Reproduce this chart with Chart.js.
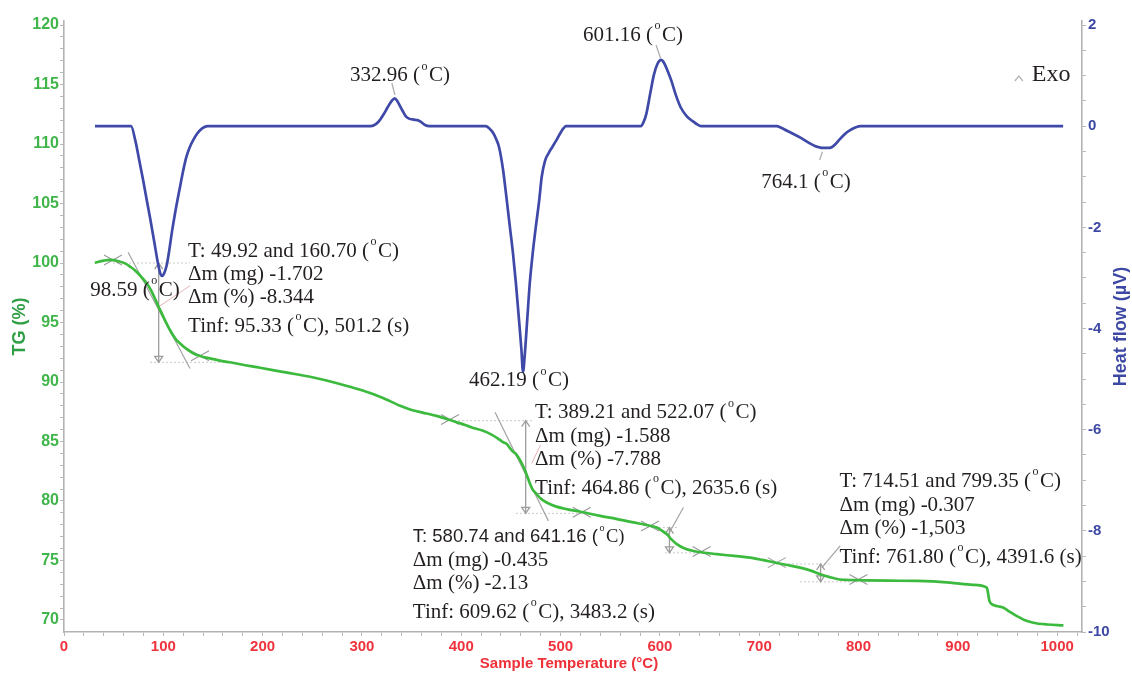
<!DOCTYPE html>
<html>
<head>
<meta charset="utf-8">
<script src="https://cdn.jsdelivr.net/npm/chart.js@4.4.1/dist/chart.umd.min.js"></script>
<style>
  html, body { margin: 0; padding: 0; background: #ffffff; }
  #wrap { width: 1132px; height: 679px; position: relative; }
</style>
</head>
<body>
<div id="wrap"><canvas id="c" width="1132" height="679"></canvas></div>
<script>
// ---- TG curve: sample temperature (°C) and remaining mass (%) ----
const tgTemps = [31, 40, 46.3, 55, 62, 66.5, 71, 75, 79, 83.3, 87, 91, 95.33, 98, 101, 104, 106.7, 110, 113, 116.8,
  120, 123.5, 127, 130.2, 135, 140, 147, 157, 167, 180, 197.4, 220, 250, 275, 300, 320, 338.4, 350, 365, 375,
  388.7, 400, 410, 422, 430, 437, 442, 445.8, 449, 452, 455, 457.5, 461, 464.3, 467, 469.3, 472, 476, 480, 486,
  495, 506, 520, 539.8, 556, 573.3, 585, 596.9, 602, 607, 612, 617, 625, 633.7, 645, 657.3, 675, 690.8, 703, 714.3,
  728, 741.2, 752, 761.3, 771, 781.5, 790, 801.6, 830, 858.7, 892.2, 915, 929.2, 930.5, 931.8, 934, 937, 942, 946, 952,
  959.4, 967, 976.1, 990, 1006.3];
const tgValues = [100.02, 100.2, 100.27, 100.15, 99.95, 99.7, 99.42, 99.1, 98.72, 98.3, 97.8, 97.12, 96.3, 95.85, 95.3, 94.8, 94.37, 93.9, 93.55, 93.25,
  93.0, 92.78, 92.58, 92.41, 92.24, 92.1, 91.99, 91.8, 91.66, 91.45, 91.2, 90.85, 90.4, 89.9, 89.3, 88.7, 88.0, 87.65, 87.35, 87.15,
  86.8, 86.5, 86.2, 85.9, 85.6, 85.25, 84.95, 84.79, 84.45, 84.15, 83.95, 83.66, 83.15, 82.54, 81.95, 81.42, 80.95, 80.58, 80.2, 79.87,
  79.55, 79.32, 79.1, 78.75, 78.5, 78.2, 78.0, 77.77, 77.5, 77.2, 76.75, 76.37, 76.0, 75.8, 75.65, 75.53, 75.38, 75.24, 75.05, 74.85,
  74.62, 74.4, 74.15, 73.85, 73.6, 73.4, 73.36, 73.34, 73.3, 73.28, 73.14, 72.95, 72.72, 72.2, 71.6, 71.35, 71.22, 71.12, 71.03, 70.7,
  70.33, 70.0, 69.77, 69.62, 69.55];

// ---- DTA curve: sample temperature (°C) and heat flow (µV) ----
const hfTemps = [31.2, 50, 67.5, 72, 76, 80, 83.3, 87, 91, 94.5, 96.8, 98.59, 100.6, 103.4, 106, 109, 112, 116.8, 120, 123,
  126.5, 130.2, 134, 137, 141, 145, 200, 250, 309, 314, 318, 322, 326, 330, 332.96, 335.5, 338, 341, 344, 347.4,
  352, 356, 359, 363, 368, 400, 424.6, 428, 432, 435, 438, 442, 445.8, 449, 452, 455, 458, 460.5, 462.19, 464,
  466.5, 469, 472, 475, 478.5, 481, 484.4, 488, 492, 496, 500, 503, 505.5, 550, 580.7, 583.5, 586.4, 590, 594, 597.5,
  601.16, 604.5, 608, 611.5, 616, 621, 626.9, 633, 638, 642, 680, 717.5, 722, 728, 735, 741, 746, 751, 756, 760,
  764.1, 769, 773.4, 777, 781, 785, 789, 794, 798, 802, 850, 900, 950, 1006];
const hfValues = [0, 0, 0, -0.3, -0.7, -1.1, -1.46, -1.85, -2.3, -2.7, -2.9, -2.96, -2.92, -2.75, -2.45, -2.05, -1.7, -1.2, -0.88, -0.62,
  -0.42, -0.27, -0.15, -0.08, -0.02, 0, 0, 0, 0, 0.04, 0.12, 0.24, 0.38, 0.5, 0.55, 0.5, 0.41, 0.3, 0.2, 0.15,
  0.13, 0.12, 0.09, 0.03, 0, 0, 0, -0.04, -0.13, -0.25, -0.41, -0.85, -1.46, -2.0, -2.5, -3.1, -3.8, -4.4, -4.86, -4.5,
  -3.8, -3.1, -2.5, -2.0, -1.46, -1.0, -0.68, -0.53, -0.4, -0.27, -0.13, -0.04, 0, 0, 0, 0.08, 0.25, 0.62, 1.02, 1.23,
  1.31, 1.24, 1.08, 0.9, 0.62, 0.37, 0.2, 0.1, 0.03, 0, 0, 0, -0.03, -0.09, -0.16, -0.22, -0.28, -0.34, -0.39, -0.415,
  -0.43, -0.43, -0.41, -0.35, -0.26, -0.18, -0.11, -0.05, -0.015, 0, 0, 0, 0, 0];

// ---- axis tick labels ----
const xTickLabels = [0, 100, 200, 300, 400, 500, 600, 700, 800, 900, 1000];
const tgTickLabels = [70, 75, 80, 85, 90, 95, 100, 105, 110, 115, 120];
const hfTickLabels = [-10, -8, -6, -4, -2, 0, 2];

// ---- DTA peak temperatures (°C) ----
const peakTemps = [98.59, 332.96, 462.19, 601.16, 764.1];

// ---- mass-loss steps ----
const stepRanges = [[49.92, 160.70], [389.21, 522.07], [580.74, 641.16], [714.51, 799.35]];
const stepMassMg = [-1.702, -1.588, -0.435, -0.307];
const stepMassPct = ['-8.344', '-7.788', '-2.13', '-1,503'];
const stepTinf = [95.33, 464.86, 609.62, 761.80];
const stepTinfTime = [501.2, 2635.6, 3483.2, 4391.6];

// ---- construction marks of each step (temperature °C, mass %) ----
const stepMarks = [
  { crosses: [[49.3, 100.25], [137, 92.2]], top: 100.0, dotTop: [49.3, 127], dotBottom: [86.6, 160.7],
    tangent: [[64.5, 100.9], [126.9, 91.13]], pink: [[96.7, 96.4], [126.9, 98.1]] },
  { crosses: [[388.7, 86.85], [521.3, 79.05]], top: 86.75, dotTop: [388.7, 472.3], dotBottom: [455, 526.7],
    tangent: [[434, 87.45], [487.7, 78.33]], pink: [[471, 83.17], [479.8, 84.71]] },
  { crosses: [[590, 77.9], [642, 75.75]], top: 77.77, dotTop: [586.8, 617], dotBottom: [605, 650],
    tangent: [[623.7, 79.45], [608.6, 77.2]], pink: null },
  { crosses: [[717.7, 74.82], [799.9, 73.4]], top: 74.71, dotTop: [717, 771], dotBottom: [741, 811],
    tangent: [[781.5, 76.23], [763, 74.4]], pink: null }
];
// anchor of each step's text block (left edge °C, first line mass %)
const stepTextAnchor = [[124.9, 101.01], [474.3, 87.4], [351.2, 77.0], [780.8, 81.63]];
// anchor of each peak label (centre °C, heat flow µV) and its leader line
const peakLabelAnchor = [[71.5, -3.24], [338.3, 0.993], [458.1, -5.037], [572.9, 1.803], [747.1, -1.103]];
const peakLeaders = [null, [[330.1, 0.854], [333.2, 0.617]], null, [[596.1, 1.605], [600.6, 1.348]], [[763.6, -0.504], [760.9, -0.668]]];
const exoAnchor = [974.5, 1.012];

const SERIF = '"Liberation Serif", "Times New Roman", serif';
const SANS = '"Liberation Sans", Arial, sans-serif';
const TEXT_SIZE = 21;
const LINE_OFFSETS = [0, 23.5, 46.5, 75.5];

const stepLines = stepRanges.map((r, i) => [
  `T: ${r[0].toFixed(2)} and ${r[1].toFixed(2)} (°C)`,
  `Δm (mg) ${stepMassMg[i]}`,
  `Δm (%) ${stepMassPct[i]}`,
  `Tinf: ${stepTinf[i].toFixed(2)} (°C), ${stepTinfTime[i]} (s)`
]);

// text with "°" drawn as a small raised "o"
function richRuns(str, size, headFamily, family) {
  const parts = str.split('°');
  const runs = [];
  parts.forEach((p, i) => {
    if (i > 0) runs.push({ text: 'o', font: `${Math.round(size * 0.55)}px ${family}`, dy: -size * 0.45, pad: 1.5 });
    if (p) runs.push({ text: p, font: `${size}px ${i === 0 ? headFamily : family}`, dy: 0, pad: 0 });
  });
  return runs;
}
function drawRich(ctx, str, x, y, opt) {
  const size = opt.size || TEXT_SIZE;
  const runs = richRuns(str, size, opt.headFamily || SERIF, SERIF);
  let w = 0;
  runs.forEach(r => { ctx.font = r.font; r.w = ctx.measureText(r.text).width + 2 * r.pad; w += r.w; });
  let cx = opt.align === 'center' ? x - w / 2 : x;
  ctx.textAlign = 'left';
  ctx.textBaseline = 'middle';
  ctx.fillStyle = '#231f20';
  runs.forEach(r => { ctx.font = r.font; ctx.fillText(r.text, cx + r.pad, y + r.dy); cx += r.w; });
}

function line(ctx, a, b) {
  ctx.beginPath(); ctx.moveTo(a[0], a[1]); ctx.lineTo(b[0], b[1]); ctx.stroke();
}

const annotationPlugin = {
  id: 'thermoAnnotations',
  beforeDatasetsDraw(chart) {
    const { ctx, scales } = chart;
    const X = v => scales.x.getPixelForValue(v);
    const Y = v => scales.yTG.getPixelForValue(v);
    ctx.save();
    stepMarks.forEach((m, i) => {
      const bottom = m.top + parseFloat(stepMassPct[i].replace(',', '.'));
      // dotted level lines
      ctx.strokeStyle = '#c9c9c9'; ctx.lineWidth = 1; ctx.setLineDash([2, 2]);
      line(ctx, [X(m.dotTop[0]), Y(m.top)], [X(m.dotTop[1]), Y(m.top)]);
      line(ctx, [X(m.dotBottom[0]), Y(bottom)], [X(m.dotBottom[1]), Y(bottom)]);
      ctx.setLineDash([]);
      // tangent at the inflection
      ctx.strokeStyle = '#a3a3a3'; ctx.lineWidth = 1.2;
      line(ctx, [X(m.tangent[0][0]), Y(m.tangent[0][1])], [X(m.tangent[1][0]), Y(m.tangent[1][1])]);
      if (m.pink) {
        ctx.strokeStyle = '#e6b4b4'; ctx.lineWidth = 1;
        line(ctx, [X(m.pink[0][0]), Y(m.pink[0][1])], [X(m.pink[1][0]), Y(m.pink[1][1])]);
      }
      // mass-change arrow at Tinf
      const ax = X(stepTinf[i]), y1 = Y(m.top), y2 = Y(bottom);
      ctx.strokeStyle = '#9d9d9d'; ctx.lineWidth = 1.3;
      line(ctx, [ax, y1], [ax, y2]);
      ctx.beginPath();
      ctx.moveTo(ax - 4, y1 + 6); ctx.lineTo(ax, y1); ctx.lineTo(ax + 4, y1 + 6);
      ctx.moveTo(ax - 4, y2 - 6); ctx.lineTo(ax, y2); ctx.lineTo(ax + 4, y2 - 6); ctx.closePath();
      ctx.stroke();
      // crosses at the tangent points
      ctx.strokeStyle = '#9a9a9a'; ctx.lineWidth = 1.1;
      m.crosses.forEach(c => {
        const cx = X(c[0]), cy = Y(c[1]);
        line(ctx, [cx - 9, cy - 5], [cx + 9, cy + 5]);
        line(ctx, [cx - 9, cy + 5], [cx + 9, cy - 5]);
      });
    });
    ctx.restore();
  },
  afterDatasetsDraw(chart) {
    const { ctx, scales } = chart;
    const X = v => scales.x.getPixelForValue(v);
    const Y = v => scales.yTG.getPixelForValue(v);
    const H = v => scales.yHF.getPixelForValue(v);
    ctx.save();
    // peak leaders and labels
    ctx.strokeStyle = '#b0b0b0'; ctx.lineWidth = 1.3;
    peakLeaders.forEach(l => { if (l) line(ctx, [X(l[0][0]), H(l[0][1])], [X(l[1][0]), H(l[1][1])]); });
    peakTemps.forEach((t, i) => {
      drawRich(ctx, `${t} (°C)`, X(peakLabelAnchor[i][0]), H(peakLabelAnchor[i][1]), { align: 'center' });
    });
    // step text blocks
    stepLines.forEach((lines, i) => {
      const x0 = X(stepTextAnchor[i][0]), y0 = Y(stepTextAnchor[i][1]);
      lines.forEach((s, k) => {
        const sansHead = i === 2 && k === 0;
        drawRich(ctx, s, x0, y0 + LINE_OFFSETS[k], { headFamily: sansHead ? SANS : SERIF, size: sansHead ? 18.5 : TEXT_SIZE });
      });
    });
    // Exo marker
    const ex = X(exoAnchor[0]), ey = H(exoAnchor[1]);
    ctx.strokeStyle = '#b5b5b5'; ctx.lineWidth = 1.3;
    ctx.beginPath(); ctx.moveTo(ex - 17, ey + 6); ctx.lineTo(ex - 13, ey + 1); ctx.lineTo(ex - 9, ey + 6); ctx.stroke();
    drawRich(ctx, 'Exo', ex, ey, { size: 24 });

    // axis titles
    ctx.font = `bold 18px ${SANS}`;
    ctx.textAlign = 'center'; ctx.textBaseline = 'middle';
    const midY = (chart.chartArea.top + chart.chartArea.bottom) / 2;
    ctx.save(); ctx.translate(20, midY); ctx.rotate(-Math.PI / 2);
    ctx.fillStyle = '#2f9f45'; ctx.fillText('TG (%)', 0, 0); ctx.restore();
    ctx.save(); ctx.translate(1121, midY); ctx.rotate(-Math.PI / 2);
    ctx.fillStyle = '#3c48a3'; ctx.fillText('Heat flow (µV)', 0, 0); ctx.restore();
    ctx.font = `bold 15px ${SANS}`;
    ctx.fillStyle = '#ee3038';
    ctx.fillText('Sample Temperature (°C)', 569, 664);
    ctx.restore();
  }
};

function stepTicks(from, to, step) {
  const t = [];
  for (let v = from; v <= to + 1e-9; v += step) t.push({ value: Math.round(v * 100) / 100 });
  return t;
}
const axisGrid = { drawOnChartArea: false, drawTicks: true, color: '#b8b8b8', tickLength: 4, tickWidth: 1 };
const axisBorder = { display: true, color: '#b3b3b3', width: 1.6 };

new Chart(document.getElementById('c'), {
  type: 'line',
  data: {
    datasets: [
      {
        label: 'Heat flow',
        data: hfTemps.map((t, i) => ({ x: t, y: hfValues[i] })),
        yAxisID: 'yHF',
        borderColor: '#3f49a7',
        borderWidth: 2.7,
        pointRadius: 0,
        cubicInterpolationMode: 'monotone',
        fill: false,
        order: 1
      },
      {
        label: 'TG',
        data: tgTemps.map((t, i) => ({ x: t, y: tgValues[i] })),
        yAxisID: 'yTG',
        borderColor: '#3cba3e',
        borderWidth: 2.7,
        pointRadius: 0,
        cubicInterpolationMode: 'monotone',
        fill: false,
        order: 2
      }
    ]
  },
  options: {
    responsive: false,
    animation: false,
    devicePixelRatio: 1,
    layout: { padding: { top: 21, left: 0, right: 0, bottom: 0 } },
    plugins: { legend: { display: false }, tooltip: { enabled: false } },
    scales: {
      x: {
        type: 'linear', position: 'bottom', min: 0, max: 1025,
        afterFit(s) { s.height = 47; },
        afterBuildTicks(s) { s.ticks = stepTicks(0, 1020, 20); },
        ticks: {
          autoSkip: false, maxRotation: 0, padding: 2, color: '#ef333c',
          font: { family: SANS, weight: 'bold', size: 15 },
          callback: v => xTickLabels.includes(v) ? String(v) : ''
        },
        grid: axisGrid, border: axisBorder
      },
      yTG: {
        type: 'linear', position: 'left', min: 68.99, max: 120.34,
        afterFit(s) { s.width = 64; },
        afterBuildTicks(s) { s.ticks = stepTicks(70, 120, 1); },
        ticks: {
          autoSkip: false, padding: 1, color: '#3fb54a',
          font: { family: SANS, weight: 'bold', size: 16 },
          callback: v => tgTickLabels.includes(v) ? String(v) : ''
        },
        grid: axisGrid, border: axisBorder
      },
      yHF: {
        type: 'linear', position: 'right', min: -10, max: 2.08,
        afterFit(s) { s.width = 50; },
        afterBuildTicks(s) { s.ticks = stepTicks(-10, 2, 0.5); },
        ticks: {
          autoSkip: false, padding: 2, color: '#3c48a3',
          font: { family: SANS, weight: 'bold', size: 15 },
          callback: v => hfTickLabels.includes(v) ? String(v) : ''
        },
        grid: axisGrid, border: axisBorder
      }
    }
  },
  plugins: [annotationPlugin]
});
</script>
</body>
</html>
